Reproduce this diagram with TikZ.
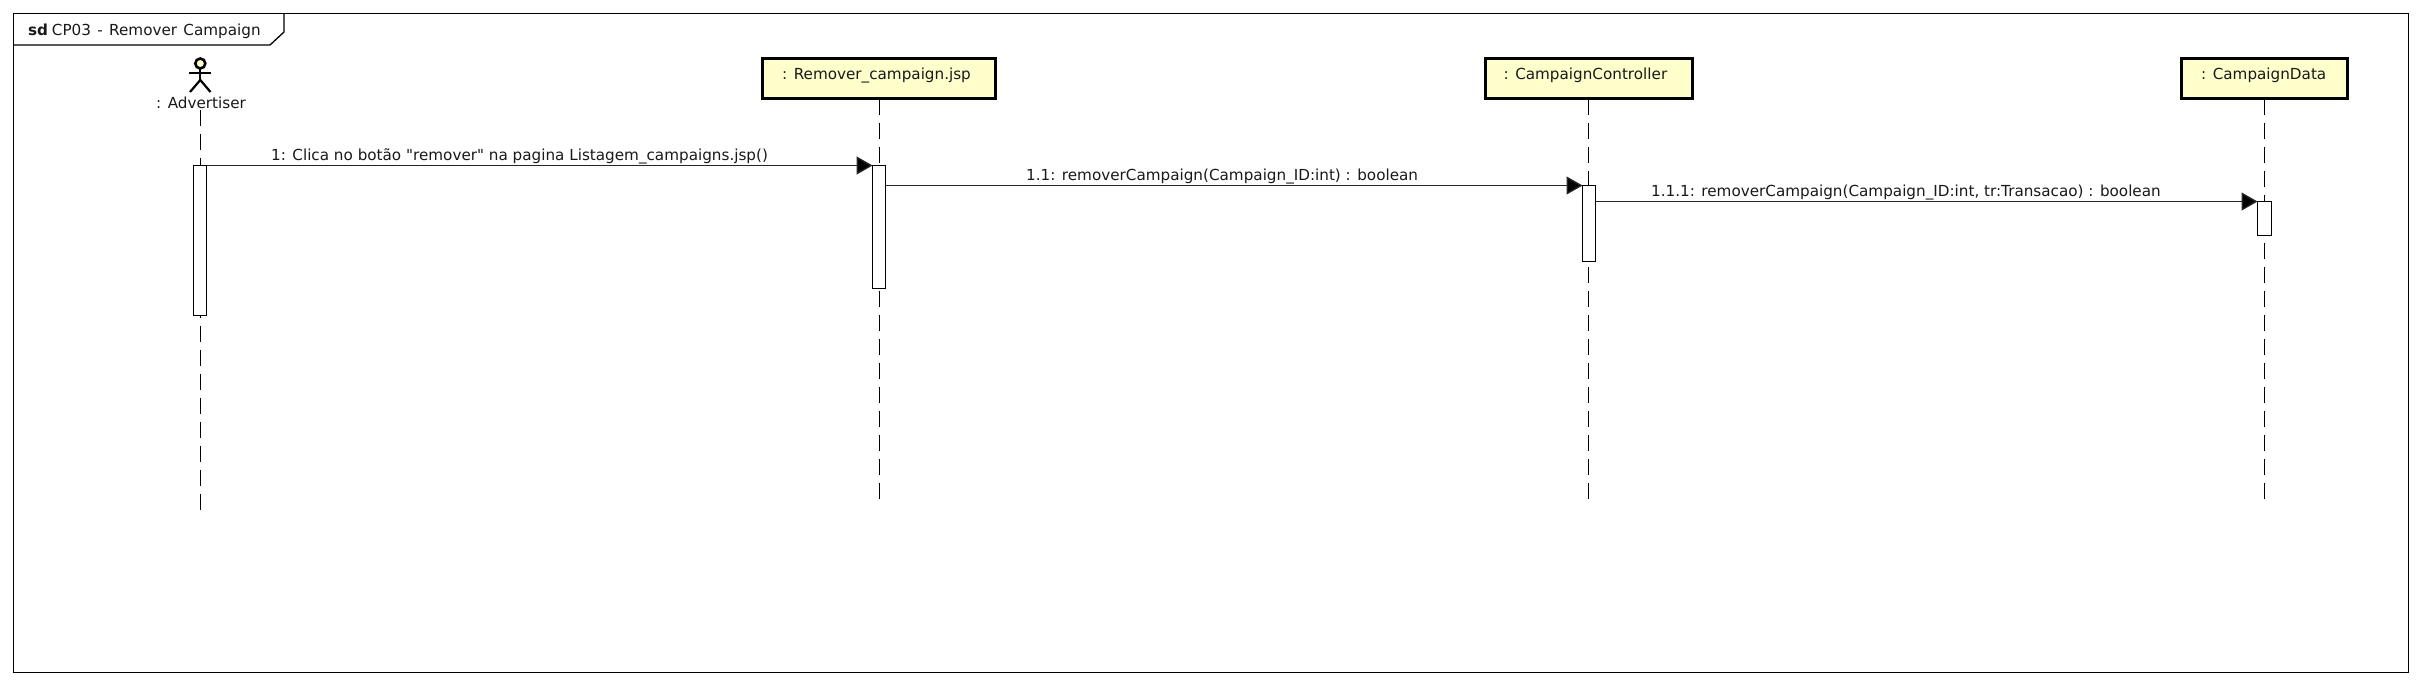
\documentclass[tikz,border=0pt]{standalone}
\usepackage{fontspec}
\newfontfamily\dvs{DejaVu Sans}
\usetikzlibrary{arrows.meta}
\definecolor{objfill}{HTML}{FFFFCC}
\tikzset{
  x=1pt,y=-1pt,
  framebox/.style={draw=black,line width=1.3pt,fill=white,rectangle,inner sep=0pt,outer sep=0pt,anchor=north west,minimum width=2395pt,minimum height=659pt},
  tabline/.style={draw=black,line width=1.3pt},
  objbox/.style={draw=black,fill=objfill,line width=3pt,rectangle,inner sep=0pt,outer sep=0pt,anchor=north west,minimum height=40pt},
  actorline/.style={draw=black,line width=2.2pt},
  actorhead/.style={draw=black,fill=objfill,line width=2.6pt,circle,inner sep=0pt,outer sep=0pt,minimum size=10pt},
  lifeline/.style={draw=black,line width=1.4pt,dash pattern=on 16pt off 8pt},
  activation/.style={draw=black,fill=white,line width=1.3pt,rectangle,inner sep=0pt,outer sep=0pt,anchor=north west,minimum width=13pt},
  msg/.style={draw=black!85,line width=1.3pt,-{Triangle[length=16pt,width=18pt,fill=black]}},
  txt/.style={inner sep=0pt,anchor=base west,font=\dvs\fontsize{15.2pt}{19pt}\selectfont,text=black!90},
}
\begin{document}
\begin{tikzpicture}
\useasboundingbox[fill=white] (0,0) rectangle (2421,685);
\node[framebox] (frame) at (13.5,13.5) {};
\coordinate (tabtop) at (284,13.5);
\coordinate (tabcut) at (284,32);
\coordinate (tabdiag) at (270,45);
\coordinate (tableft) at (13.5,45);
\draw[tabline] (tabtop) -- (tabcut) -- (tabdiag) -- (tableft);
\node[txt] (title) at (28,36) {\textbf{sd}\hspace{0.25em}CP03\hspace{0.1em} -\hspace{0.1em} Remover\hspace{0.1em} Campaign};
% actor
\node[actorhead] (head) at (200.3,63.5) {};
\coordinate (armL) at (189,72.7);
\coordinate (armR) at (211,72.7);
\coordinate (hip) at (200.3,80);
\coordinate (legL) at (190,92);
\coordinate (legR) at (210.5,92);
\draw[actorline] (head.south) -- (hip);
\draw[actorline] (armL) -- (armR);
\draw[actorline] (legL) -- (hip) -- (legR);
\node[txt] (advlabel) at (156,108) {: Advertiser};
% objects
\node[objbox,minimum width=233pt] (jsp) at (762.5,58.5) {};
\node[objbox,minimum width=207pt] (ctrl) at (1485.5,58.5) {};
\node[objbox,minimum width=166pt] (data) at (2181.5,58.5) {};
\node[txt] (jsplabel) at (782,80) {: Remover\_campaign.jsp};
\node[txt] (ctrllabel) at (1503.5,80) {: CampaignController};
\node[txt] (datalabel) at (2201,80) {: CampaignData};
% lifelines
\coordinate (advtop) at (200.6,110);
\coordinate (advend) at (200.6,511);
\coordinate (jspend) at (879.2,499);
\coordinate (ctrlend) at (1588.2,499);
\coordinate (dataend) at (2264.2,499);
\draw[lifeline] (advtop) -- (advend);
\draw[lifeline] (jsp.south -| jspend) -- (jspend);
\draw[lifeline] (ctrl.south -| ctrlend) -- (ctrlend);
\draw[lifeline] (data.south -| dataend) -- (dataend);
% activations
\node[activation,minimum height=150pt] (a1) at (193.5,165.5) {};
\node[activation,minimum height=123pt] (a2) at (872.5,165.5) {};
\node[activation,minimum height=76pt] (a3) at (1582.5,185.5) {};
\node[activation,minimum height=34pt,minimum width=14pt] (a4) at (2257.5,201.5) {};
% messages
\draw[msg] (a1.north east) -- (a2.north west);
\coordinate (m2s) at (885.5,185.5);
\draw[msg] (m2s) -- (a3.north west);
\coordinate (m3s) at (1595.5,201.5);
\draw[msg] (m3s) -- (a4.north west);
\node[txt] (m1label) at (271,160) {1: Clica no botão "remover" na pagina Listagem\_campaigns.jsp()};
\node[txt] (m2label) at (1026,180) {1.1: removerCampaign(Campaign\_ID:int) : boolean};
\node[txt] (m3label) at (1651,196) {1.1.1: removerCampaign(Campaign\_ID:int, tr:Transacao) : boolean};
\end{tikzpicture}
\end{document}
